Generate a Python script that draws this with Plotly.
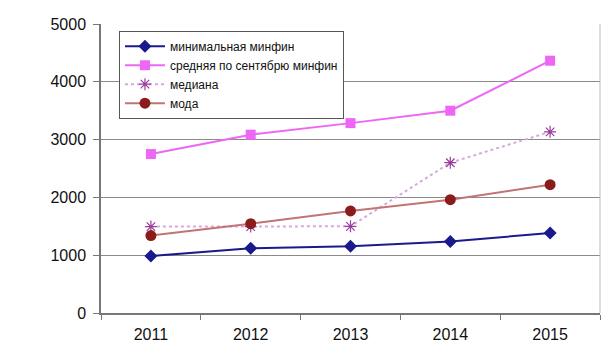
import plotly.graph_objects as go

years = ["2011", "2012", "2013", "2014", "2015"]
minimal = [985, 1120, 1155, 1235, 1385]
average = [2750, 3085, 3285, 3500, 4365]
median = [1495, 1495, 1500, 2600, 3135]
mode = [1340, 1545, 1765, 1960, 2220]

fig = go.Figure()
fig.add_trace(go.Scatter(
    x=years, y=minimal, name="минимальная минфин", mode="lines+markers",
    line=dict(color="#1a1a8c", width=2),
    marker=dict(symbol="diamond", size=10, color="#1a1a8c")))
fig.add_trace(go.Scatter(
    x=years, y=average, name="средняя по сентябрю минфин", mode="lines+markers",
    line=dict(color="#ee66f5", width=2),
    marker=dict(symbol="square", size=10, color="#ee66f5")))
fig.add_trace(go.Scatter(
    x=years, y=median, name="медиана", mode="lines+markers",
    line=dict(color="#d8a8dc", width=2, dash="dot"),
    marker=dict(symbol="asterisk-open", size=10, color="#9a3d9e",
                line=dict(color="#9a3d9e", width=1.2))))
fig.add_trace(go.Scatter(
    x=years, y=mode, name="мода", mode="lines+markers",
    line=dict(color="#c27474", width=2),
    marker=dict(symbol="circle", size=11, color="#8b1c1c")))

fig.update_layout(
    width=610, height=350,
    margin=dict(l=101, r=10, t=24, b=37),
    paper_bgcolor="white", plot_bgcolor="white",
    font=dict(family="Liberation Sans, Arial, sans-serif", color="#111111"),
    legend=dict(
        x=0.036, y=0.977, xanchor="left", yanchor="top",
        bordercolor="#555555", borderwidth=1, bgcolor="white",
        font=dict(size=12), tracegroupgap=0, itemwidth=40),
    showlegend=True,
)
fig.update_xaxes(
    type="category", range=[-0.5, 4.5], automargin=False,
    showgrid=False, showline=True, linecolor="#777777", linewidth=1.5,
    ticks="outside", tickson="boundaries", ticklen=5, tickcolor="#777777",
    tickfont=dict(size=16), ticklabelstandoff=6, mirror=False)
fig.update_yaxes(
    range=[0, 5000], dtick=1000, automargin=False,
    showgrid=True, gridcolor="#8a8a8a", gridwidth=1.2,
    showline=True, linecolor="#777777", linewidth=1.5,
    ticks="outside", ticklen=6, tickcolor="#777777",
    tickfont=dict(size=16), ticklabelstandoff=4, zeroline=False)
fig.add_shape(type="line", xref="paper", yref="paper", x0=1, x1=1, y0=0, y1=1,
              line=dict(color="#bbbbbb", width=1))

fig.write_html("out.html")
